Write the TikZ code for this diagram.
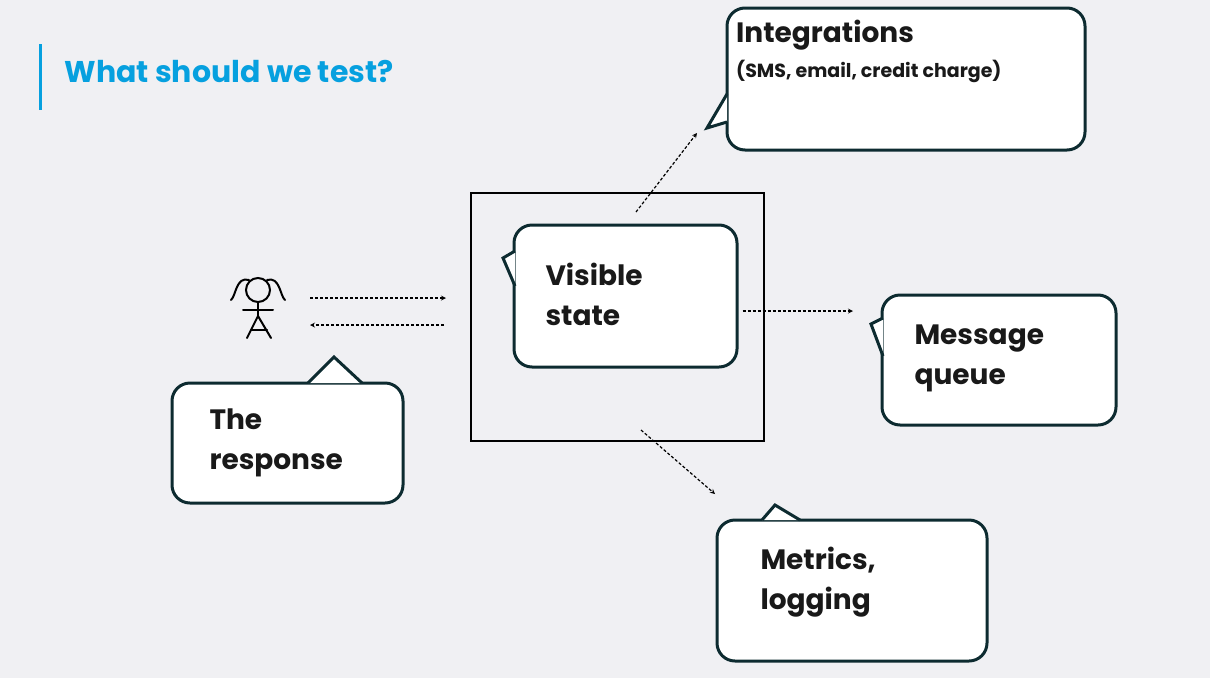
\documentclass[tikz,border=0pt]{standalone}
\usepackage{fontspec}
\setmainfont{Poppins}
\definecolor{bubbleline}{HTML}{0D2B30}
\definecolor{titleblue}{HTML}{06A0DF}
\definecolor{pagebg}{HTML}{F0F0F3}
\tikzset{
  bubble/.style={rectangle, draw=bubbleline, line width=3pt, fill=white,
    rounded corners=18pt, inner sep=0pt},
  label/.style={align=left, anchor=west, font=\bfseries\fontsize{28}{40}\selectfont, text=black!90},
  flow/.style={->, densely dashed, line width=1.2pt, >=stealth},
}
% pointer of a bubble: base point, tip, base point
\newcommand{\tailpoint}[3]{
  \fill[white] #1 -- #2 -- #3 -- cycle;
  \draw[bubbleline, line width=3pt, line join=miter] #1 -- #2 -- #3;
}
\begin{document}
\begin{tikzpicture}[x=1pt,y=-1pt]
        \fill[pagebg] (0,0) rectangle (1210,678);
        \useasboundingbox (0,0) rectangle (1210,678);

        % title
        \draw[titleblue, line width=3pt] (40,44) -- (40,110);
        \node[anchor=west, text=titleblue, font=\bfseries\fontsize{30}{40}\selectfont] (title) at (61,72) {What should we test?};

        % system box
        \draw[black, line width=2pt] (471,193) rectangle (764,441);

        % bubbles
        \node[bubble, minimum width=358pt, minimum height=142pt] (integ) at (906,79) {};
        \tailpoint{(727,94)}{(707,128)}{(727,122)}
        \node[bubble, minimum width=223pt, minimum height=142pt] (visible) at (625.5,296) {};
        \tailpoint{(515,251)}{(503,258)}{(515,286)}
        \node[bubble, minimum width=234pt, minimum height=130pt] (queue) at (999,360) {};
        \tailpoint{(883,318)}{(871,324)}{(883,356)}
        \node[bubble, minimum width=231pt, minimum height=120pt] (resp) at (287.5,443) {};
        \tailpoint{(308,383)}{(334,357)}{(362,383)}
        \node[bubble, minimum width=270pt, minimum height=141pt] (metrics) at (852,590.5) {};
        \tailpoint{(762,520)}{(775,505)}{(800,520)}

        % texts
        \node[label, anchor=north west, inner sep=0pt] (integt) at (736,20) {Integrations};
        \node[anchor=north west, inner sep=0pt, font=\bfseries\fontsize{19}{26}\selectfont, text=black!90] (integs) at (736,60) {(SMS, email, credit charge)};
        \node[label] (visiblet) at (542,294) {Visible\\state};
        \node[label] (queuet) at (911,358) {Message\\queue};
        \node[label] (respt) at (206,443) {The\\response};
        \node[label] (metricst) at (757,582) {Metrics,\\logging};

        % user
        \begin{scope}[line width=2pt, line cap=round]
          \draw (258,290) circle (12pt);
          \draw (249,280) .. controls (236,276) and (236,296) .. (231,300);
          \draw (267,280) .. controls (280,276) and (280,296) .. (285,300);
          \draw (258,302) -- (258,316);
          \draw (243,310) -- (273,310);
          \draw (258,316) -- (247,338);
          \draw (258,316) -- (271,338);
          \draw (251,330) -- (267,330);
        \end{scope}
        \coordinate (user) at (258,310);

        % connectors
        \coordinate (u1) at (310,298);
        \coordinate (b1) at (446,298);
        \coordinate (u2) at (310,325);
        \coordinate (b2) at (444,325);
        \draw[flow] (u1) -- (b1);
        \draw[flow] (b2) -- (u2);
        \coordinate (top) at (636,212);
        \draw[flow] (top) -- (697,133);
        \draw[flow] (visible.east) ++(4,15) -- (853,311);
        \coordinate (bot) at (641,430);
        \draw[flow] (bot) -- (715,494);
\end{tikzpicture}
\end{document}
